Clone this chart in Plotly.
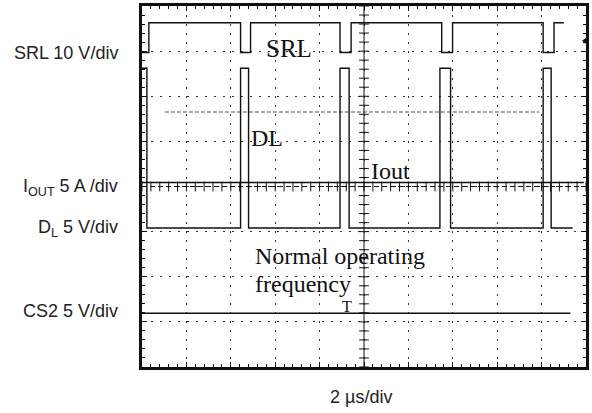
import plotly.graph_objects as go

# Horizontal: time in microseconds (2 us/div, 10 divisions)
# Vertical: screen divisions (-4 .. +4), each channel drawn at its own offset
T_SPAN = 20.0

# SRL (10 V/div): low dips once per switching period
SRL_HIGH = 3.63
SRL_LOW = 2.97
SRL_DIP_START = [0.0, 4.44, 8.92, 13.50, 18.07]
SRL_DIP_END = [0.31, 4.89, 9.42, 13.99, 18.56]
SRL_END = 19.0

# DL (5 V/div): short low-side gate pulses
DL_HIGH = 2.62
DL_LOW = -0.92
DL_PULSE_START = [0.0, 4.44, 8.92, 13.42, 18.07]
DL_PULSE_END = [0.22, 4.80, 9.33, 13.90, 18.43]
DL_END = 19.4

# IOUT (5 A/div) and CS2 (5 V/div): flat traces
IOUT_T = [0.0, 19.9]
IOUT_LEVEL = [0.09, 0.09]
CS2_T = [0.0, 19.3]
CS2_LEVEL = [-2.81, -2.81]

# faint reference trace
REF_T = [1.03, 17.9]
REF_LEVEL = [1.65, 1.65]

CHANNEL_LABELS = ["SRL 10 V/div", "I<sub>OUT</sub> 5 A /div", "D<sub>L</sub> 5 V/div", "CS2 5 V/div"]
CHANNEL_LABEL_Y = [0.871, 0.497, 0.383, 0.154]
TIME_LABEL = "2 µs/div"


def pulse_train(starts, ends, base, peak, t_end):
    xs, ys = [], []
    for s, e in zip(starts, ends):
        if s <= 0:
            xs += [0.0, e, e]
            ys += [peak, peak, base]
        else:
            xs += [s, s, e, e]
            ys += [base, peak, peak, base]
    xs.append(t_end)
    ys.append(base)
    return xs, ys


fig = go.Figure()

INK = "#111111"

srl_x, srl_y = pulse_train(SRL_DIP_START, SRL_DIP_END, SRL_HIGH, SRL_LOW, SRL_END)
dl_x, dl_y = pulse_train(DL_PULSE_START, DL_PULSE_END, DL_LOW, DL_HIGH, DL_END)

fig.add_trace(go.Scatter(x=REF_T, y=REF_LEVEL, mode="lines",
                         line=dict(color="#8a8a8a", width=1.6, dash="4px,2px"),
                         hoverinfo="skip"))
fig.add_trace(go.Scatter(x=srl_x, y=srl_y, mode="lines", line=dict(color=INK, width=1.4)))
fig.add_trace(go.Scatter(x=dl_x, y=dl_y, mode="lines", line=dict(color=INK, width=1.4)))
fig.add_trace(go.Scatter(x=IOUT_T, y=IOUT_LEVEL, mode="lines", line=dict(color=INK, width=1.4)))
fig.add_trace(go.Scatter(x=CS2_T, y=CS2_LEVEL, mode="lines", line=dict(color=INK, width=1.4)))

# graticule centre cross with 0.2-division tick marks
fig.add_shape(type="line", x0=T_SPAN / 2, x1=T_SPAN / 2, y0=-4, y1=4,
              line=dict(color=INK, width=1))
fig.add_shape(type="line", x0=0, x1=T_SPAN, y0=0, y1=0,
              line=dict(color=INK, width=1, dash="5px,3px"))
n_y = 40
tick_y = [-4 + 8 * i / n_y for i in range(n_y + 1)]
fig.add_trace(go.Scatter(x=[T_SPAN / 2] * len(tick_y), y=tick_y, mode="markers",
                         marker=dict(symbol="line-ew", size=7,
                                     line=dict(color=INK, width=1)),
                         hoverinfo="skip"))
n_x = 50
tick_x = [T_SPAN * i / n_x for i in range(n_x + 1)]
fig.add_trace(go.Scatter(x=tick_x, y=[0] * len(tick_x), mode="markers",
                         marker=dict(symbol="line-ns", size=7,
                                     line=dict(color=INK, width=1)),
                         hoverinfo="skip"))

# trigger level marker on the right edge
fig.add_trace(go.Scatter(x=[T_SPAN], y=[3.23], mode="markers", cliponaxis=False,
                         marker=dict(symbol="triangle-left", size=8, color=INK),
                         hoverinfo="skip"))

serif = "Liberation Serif, Times New Roman, serif"
sans = "Liberation Sans, Arial, sans-serif"

in_plot = [
    ("SRL", 6.64, 3.05, "center", 25),
    ("DL", 5.61, 1.07, "center", 24),
    ("Iout", 11.21, 0.34, "center", 24),
    ("Normal operating", 4.98, -1.55, "left", 24),
    ("frequency", 4.98, -2.15, "left", 24),
]
for text, x, y, anchor, size in in_plot:
    fig.add_annotation(x=x, y=y, xref="x", yref="y", text=text, showarrow=False,
                       xanchor=anchor, yanchor="middle",
                       font=dict(family=serif, size=size, color=INK))

# trigger position marker
fig.add_annotation(x=9.24, y=-2.66, xref="x", yref="y", text="T", showarrow=False,
                   xanchor="center", yanchor="middle",
                   font=dict(family=serif, size=16, color=INK))

for text, y in zip(CHANNEL_LABELS, CHANNEL_LABEL_Y):
    fig.add_annotation(x=-0.049, y=y, xref="paper", yref="paper", text=text,
                       showarrow=False, xanchor="right", yanchor="middle",
                       font=dict(family=sans, size=18, color="#222222"))

fig.add_annotation(x=0.493, y=-0.082, xref="paper", yref="paper", text=TIME_LABEL,
                   showarrow=False, xanchor="center", yanchor="middle",
                   font=dict(family=sans, size=18, color="#222222"))

grid_style = dict(showgrid=True, gridcolor="#333333", gridwidth=1.4, griddash="2px,7px",
                  zeroline=False, showticklabels=False, showline=True, linecolor=INK,
                  linewidth=3, mirror="ticks", ticks="inside", ticklen=5,
                  tickcolor=INK)

fig.update_xaxes(range=[0, T_SPAN], dtick=2, tick0=0, **grid_style,
                 minor=dict(dtick=0.4, ticks="inside", ticklen=3, tickcolor=INK, showgrid=False))
fig.update_yaxes(range=[-4, 4], dtick=1, tick0=-4, **grid_style,
                 minor=dict(dtick=0.2, ticks="inside", ticklen=3, tickcolor=INK, showgrid=False))

fig.update_layout(width=592, height=413, margin=dict(l=142, r=4, t=3, b=46),
                  paper_bgcolor="white", plot_bgcolor="white", showlegend=False)

fig.write_html("out.html")
